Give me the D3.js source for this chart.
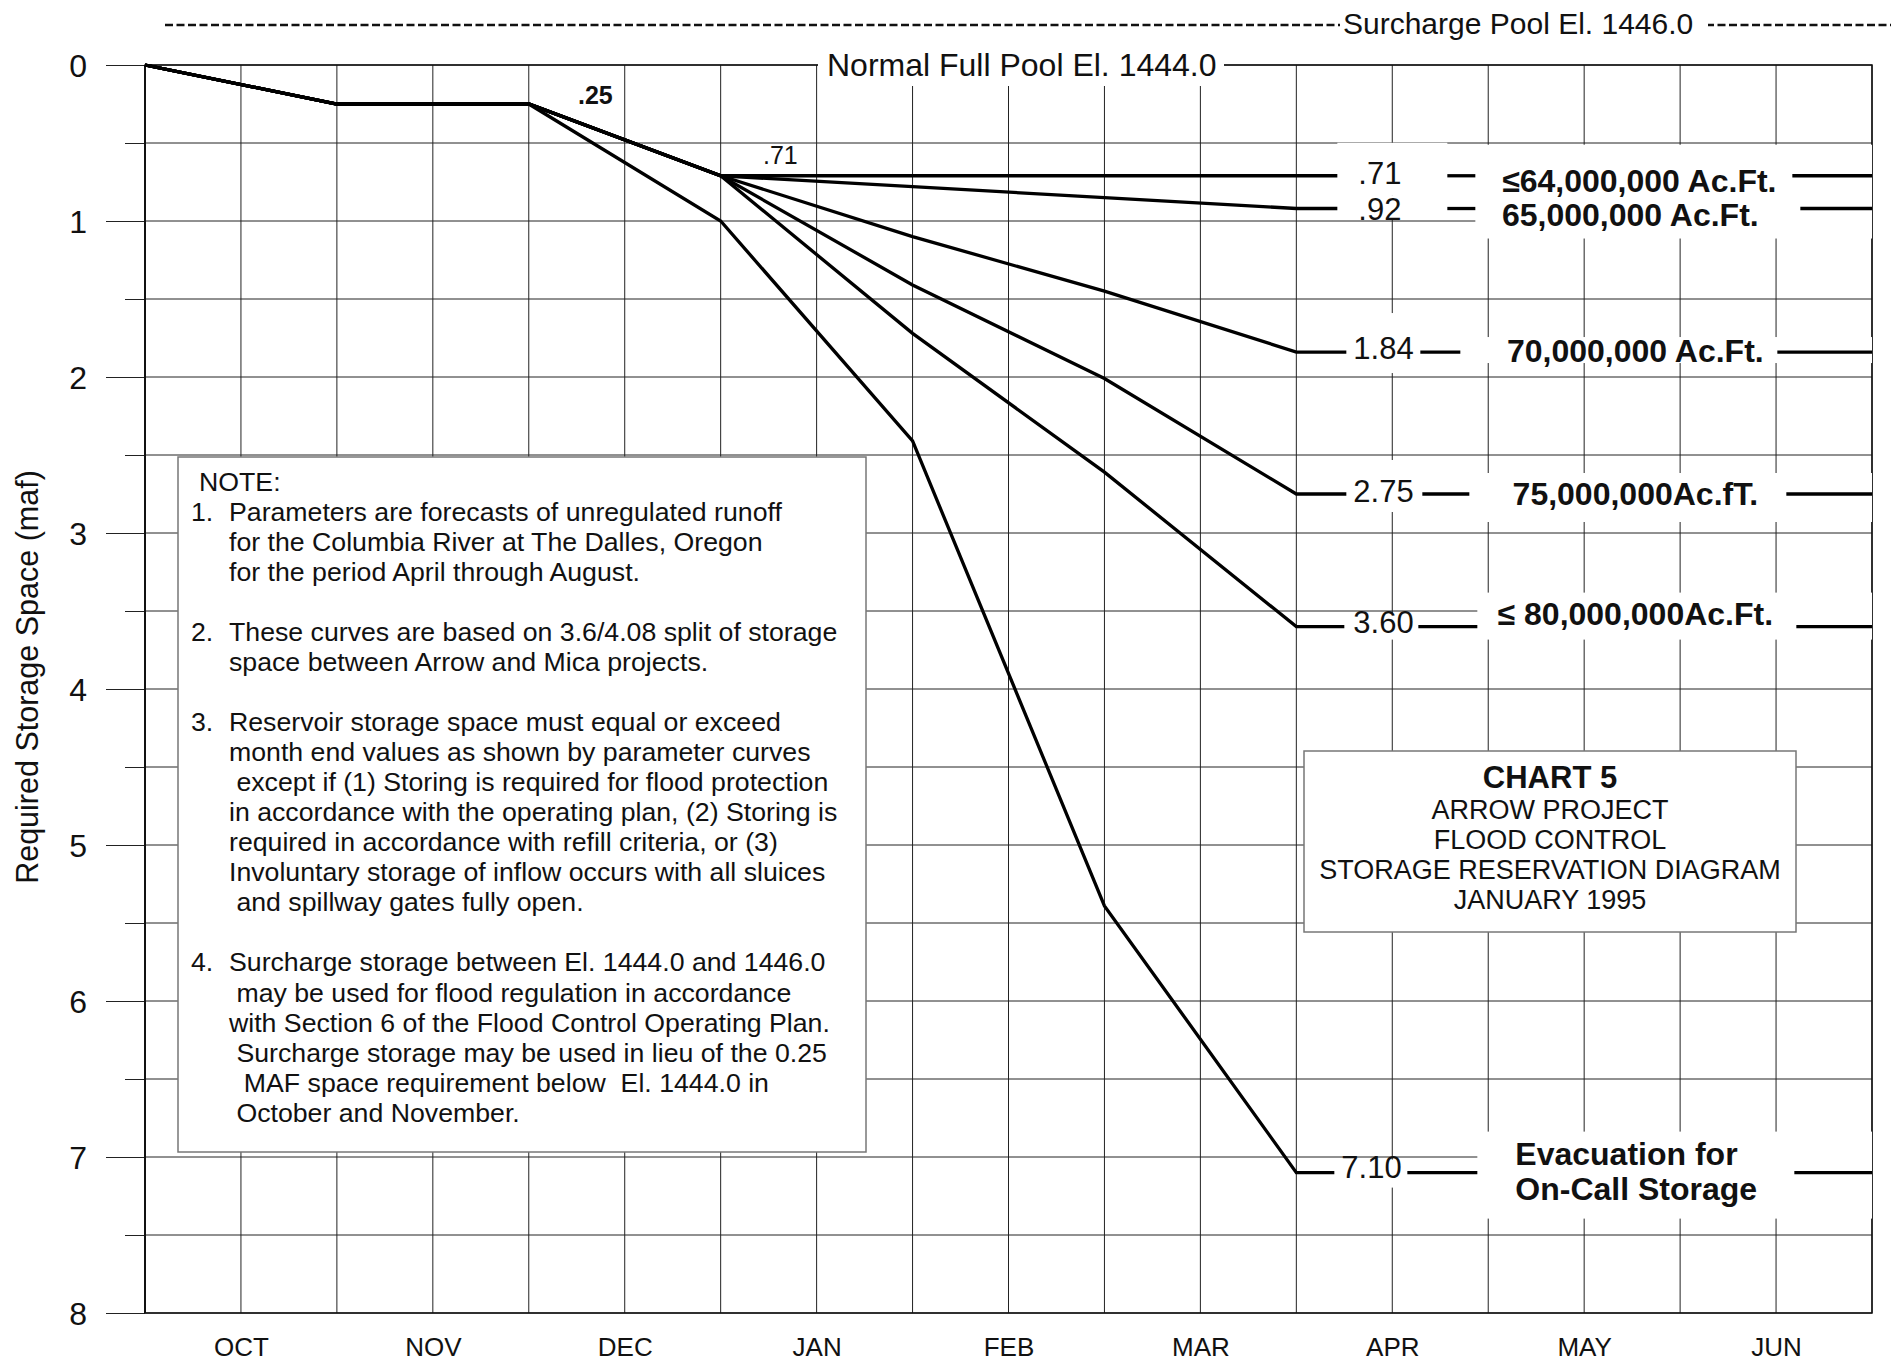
<!DOCTYPE html>
<html>
<head>
<meta charset="utf-8">
<script src="https://cdn.jsdelivr.net/npm/d3@7"></script>
<style>
  body { margin: 0; background: #fff; }
  text { font-family: "Liberation Sans", Arial, Helvetica, sans-serif; fill: #111; }
</style>
</head>
<body>
<div id="root"></div>
<script>
// month-end positions: 0 = Sep 30, 1 = Oct 31, ... 6 = Mar 31
const monthEnds = [0, 1, 2, 3, 4, 5, 6];
const months = ["OCT", "NOV", "DEC", "JAN", "FEB", "MAR", "APR", "MAY", "JUN"];

// required storage space (maf) at each month end
const runoff64 = [0, 0.25, 0.25, 0.71, 0.71, 0.71, 0.71];
const runoff65 = [0, 0.25, 0.25, 0.71, 0.78, 0.85, 0.92];
const runoff70 = [0, 0.25, 0.25, 0.71, 1.10, 1.45, 1.84];
const runoff75 = [0, 0.25, 0.25, 0.71, 1.41, 2.01, 2.75];
const runoff80 = [0, 0.25, 0.25, 0.71, 1.72, 2.61, 3.60];
const evacuation = [0, 0.25, 0.25, 1.00, 2.41, 5.39, 7.10];

const seriesValues = [runoff64, runoff65, runoff70, runoff75, runoff80, evacuation];
const endValueLabels = [".71", ".92", "1.84", "2.75", "3.60", "7.10"];
const seriesNames = ["\u226464,000,000 Ac.Ft.", "65,000,000 Ac.Ft.", "70,000,000 Ac.Ft.",
                     "75,000,000Ac.fT.", "\u2264 80,000,000Ac.Ft.", "Evacuation for\nOn-Call Storage"];

const yTicks = [0, 1, 2, 3, 4, 5, 6, 7, 8];

const noteLines = [
  "1.|Parameters are forecasts of unregulated runoff",
  "|for the Columbia River at The Dalles, Oregon",
  "|for the period April through August.",
  "",
  "2.|These curves are based on 3.6/4.08 split of storage",
  "|space between Arrow and Mica projects.",
  "",
  "3.|Reservoir storage space must equal or exceed",
  "|month end values as shown by parameter curves",
  "| except if (1) Storing is required for flood protection",
  "|in accordance with the operating plan, (2) Storing is",
  "|required in accordance with refill criteria, or (3)",
  "|Involuntary storage of inflow occurs with all sluices",
  "| and spillway gates fully open.",
  "",
  "4.|Surcharge storage between El. 1444.0 and 1446.0",
  "| may be used for flood regulation in accordance",
  "|with Section 6 of the Flood Control Operating Plan.",
  "| Surcharge storage may be used in lieu of the 0.25",
  "|  MAF space requirement below  El. 1444.0 in",
  "| October and November."
];
const titleLines = ["CHART 5", "ARROW PROJECT", "FLOOD CONTROL", "STORAGE RESERVATION DIAGRAM", "JANUARY 1995"];

// where the flat April-June part of each curve is broken by its labels (px from Mar 31)
const endLayout = [
  { seg: [41, 151, 179, 496], valDx: 62, valDy: 8,   valBox: [-33, 20], labDx: 343, labDy: 16,  labBox: [-31, 30], anchor: "middle" },
  { seg: [41, 151, 179, 504], valDx: 62, valDy: 11.5, valBox: [-13, 11], labDx: 334, labDy: 17.5, labBox: [-30, 30], anchor: "middle" },
  { seg: [50, 124, 164, 481], valDx: 57, valDy: 7,   valBox: [-39, 21], labDx: 339, labDy: 10,  labBox: [-15, 11], anchor: "middle" },
  { seg: [50, 126, 173, 490], valDx: 57, valDy: 8,   valBox: [-34, 18], labDx: 339, labDy: 11,  labBox: [-21, 28], anchor: "middle" },
  { seg: [48, 122, 181, 500], valDx: 57, valDy: 6,   valBox: [-13, 13], labDx: 339, labDy: -2,  labBox: [-34, 13], anchor: "middle" },
  { seg: [38, 111, 181, 498], valDx: 45, valDy: 5,   valBox: [-13, 15], labDx: 219, labDy: -7.5, labBox: [-41, 46], anchor: "start" }
];

const W = 1891, H = 1362;
const x = d3.scaleLinear().domain([0, 9]).range([145, 1872]);
const y = d3.scaleLinear().domain([0, 8]).range([65, 1313]);

const svg = d3.select("#root").append("svg")
  .attr("width", W).attr("height", H).style("display", "block");

// grid
const grid = svg.append("g").attr("stroke", "#222").attr("stroke-width", 1);
grid.selectAll(".vg").data(d3.range(0, 9.01, 0.5)).join("line")
  .attr("class", "vg")
  .attr("x1", d => x(d)).attr("x2", d => x(d))
  .attr("y1", y(0)).attr("y2", y(8));
grid.selectAll(".hg").data(d3.range(0, 8.01, 0.5)).join("line")
  .attr("class", "hg")
  .attr("x1", x(0)).attr("x2", x(9))
  .attr("y1", d => y(d)).attr("y2", d => y(d));

// y axis: long ticks with labels on integers, short ticks on halves
const yAxis = svg.append("g").attr("transform", `translate(${x(0)},0)`)
  .call(d3.axisLeft(y).tickValues(yTicks).tickSize(39).tickPadding(19).tickFormat(d3.format("d")));
svg.append("g").attr("transform", `translate(${x(0)},0)`)
  .call(d3.axisLeft(y).tickValues(d3.range(0.5, 8, 1)).tickSize(20).tickFormat(""));
svg.selectAll(".domain").remove();
svg.selectAll(".tick line").attr("stroke", "#222");
yAxis.selectAll("text")
  .attr("font-family", "Liberation Sans, Arial, sans-serif")
  .attr("font-size", 32).attr("fill", "#111").attr("dy", "0.36em");

// month axis
const xAxis = svg.append("g").attr("transform", `translate(0,${y(8)})`)
  .call(d3.axisBottom(x).tickValues(months.map((m, i) => i + 0.5))
    .tickSize(0).tickPadding(25).tickFormat((d, i) => months[i]));
xAxis.select(".domain").remove();
xAxis.selectAll("text")
  .attr("font-family", "Liberation Sans, Arial, sans-serif")
  .attr("font-size", 26).attr("fill", "#111");

// frame
svg.append("rect").attr("x", x(0)).attr("y", y(0))
  .attr("width", x(9) - x(0)).attr("height", y(8) - y(0))
  .attr("fill", "none").attr("stroke", "#111").attr("stroke-width", 1.5);
svg.append("line").attr("x1", x(0)).attr("x2", x(0)).attr("y1", y(0)).attr("y2", y(8))
  .attr("stroke", "#111").attr("stroke-width", 2);

// y title
svg.append("text")
  .attr("transform", `translate(38,${(y(0) + y(8)) / 2 - 12}) rotate(-90)`)
  .attr("text-anchor", "middle").attr("font-size", 30.5)
  .text("Required Storage Space (maf)");

// surcharge pool line
svg.append("line").attr("x1", 165).attr("x2", W).attr("y1", 25).attr("y2", 25)
  .attr("stroke", "#111").attr("stroke-width", 2.5).attr("stroke-dasharray", "8,3.5");
svg.append("rect").attr("x", 1340).attr("y", 8).attr("width", 368).attr("height", 34).attr("fill", "#fff");
svg.append("text").attr("x", 1343).attr("y", 34).attr("font-size", 30).text("Surcharge Pool El. 1446.0");

// normal full pool label on the zero line
svg.append("rect").attr("x", 818).attr("y", 44).attr("width", 406).attr("height", 42).attr("fill", "#fff");
svg.append("text").attr("x", 827).attr("y", 76).attr("font-size", 32).text("Normal Full Pool El. 1444.0");

// note box
const noteSize = 26.7;
const note = svg.append("g");
note.append("rect").attr("x", 178).attr("y", 457).attr("width", 688).attr("height", 695)
  .attr("fill", "#fff").attr("stroke", "#777").attr("stroke-width", 1.5);
note.append("text").attr("x", 199).attr("y", 490.5).attr("font-size", noteSize).text("NOTE:");
noteLines.forEach((ln, i) => {
  if (!ln) return;
  const [num, body] = ln.split("|");
  const by = 490.5 + (i + 1) * 30.06;
  if (num) note.append("text").attr("x", 191).attr("y", by).attr("font-size", noteSize).text(num);
  note.append("text").attr("x", 229).attr("y", by).attr("font-size", noteSize)
    .style("white-space", "pre").text(body);
});

// chart title box
const tb = svg.append("g");
tb.append("rect").attr("x", 1304).attr("y", 751).attr("width", 492).attr("height", 181)
  .attr("fill", "#fff").attr("stroke", "#777").attr("stroke-width", 1.5);
titleLines.forEach((t, i) => {
  tb.append("text").attr("x", 1550).attr("y", i === 0 ? 788 : 789 + i * 30)
    .attr("text-anchor", "middle")
    .attr("font-size", i === 0 ? 31 : 27)
    .attr("font-weight", i === 0 ? "bold" : "normal")
    .text(t);
});

// white backgrounds behind the end labels
const xm = x(6);
seriesValues.forEach((vals, i) => {
  const L = endLayout[i], yy = y(vals[vals.length - 1]);
  svg.append("rect").attr("x", xm + L.seg[0]).attr("y", yy + L.valBox[0])
    .attr("width", L.seg[1] - L.seg[0]).attr("height", L.valBox[1] - L.valBox[0]).attr("fill", "#fff");
  svg.append("rect").attr("x", xm + L.seg[2]).attr("y", yy + L.labBox[0])
    .attr("width", x(9) - xm - L.seg[2]).attr("height", L.labBox[1] - L.labBox[0]).attr("fill", "#fff");
});

// curves
const line = d3.line().x(d => d[0]).y(d => d[1]);
const curves = svg.append("g").attr("fill", "none").attr("stroke", "#000")
  .attr("stroke-width", 3.3).attr("stroke-linejoin", "miter");
seriesValues.forEach((vals, i) => {
  const L = endLayout[i], last = vals[vals.length - 1];
  const pts = monthEnds.map((m, k) => [x(m), y(vals[k])]);
  pts.push([xm + L.seg[0], y(last)]);
  curves.append("path").attr("d", line(pts));
  curves.append("path").attr("d", line([[xm + L.seg[1], y(last)], [xm + L.seg[2], y(last)]]));
  curves.append("path").attr("d", line([[xm + L.seg[3], y(last)], [x(9), y(last)]]));
});

// end labels
seriesValues.forEach((vals, i) => {
  const L = endLayout[i], yy = y(vals[vals.length - 1]);
  svg.append("text").attr("x", xm + L.valDx).attr("y", yy + L.valDy)
    .attr("font-size", 31).text(endValueLabels[i]);
  const parts = seriesNames[i].split("\n");
  const t = svg.append("text").attr("x", xm + L.labDx).attr("y", yy + L.labDy)
    .attr("text-anchor", L.anchor).attr("font-weight", "bold")
    .attr("font-size", 32);
  parts.forEach((p, k) => t.append("tspan").attr("x", xm + L.labDx).attr("dy", k ? 35 : 0).text(p));
});

// small value notes near the start of the curves
svg.append("text").attr("x", 578).attr("y", 104).attr("font-size", 25).attr("font-weight", "bold")
  .text(".25");
svg.append("text").attr("x", 763).attr("y", 164).attr("font-size", 25).text(".71");
</script>
</body>
</html>
